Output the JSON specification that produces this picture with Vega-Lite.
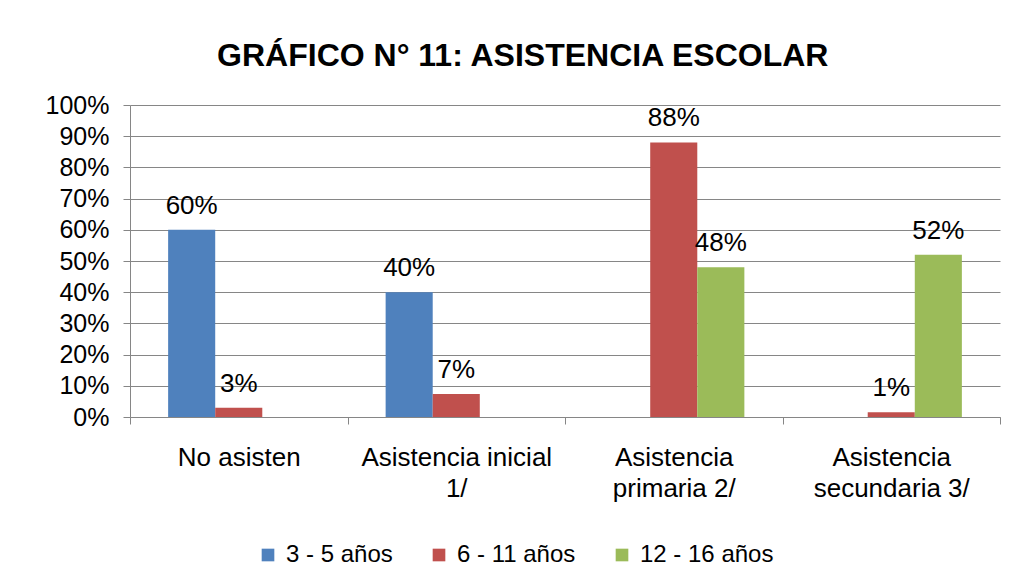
{
  "$schema": "https://vega.github.io/schema/vega-lite/v6.json",
  "autosize": {"type": "none"},
  "width": 870,
  "height": 312,
  "padding": {"left": 130, "top": 105, "right": 17, "bottom": 166},
  "background": "white",
  "title": {
    "text": "GRÁFICO N° 11: ASISTENCIA ESCOLAR",
    "font": "Liberation Sans",
    "fontSize": 32,
    "fontWeight": "bold",
    "color": "#000000",
    "anchor": "middle",
    "frame": "bounds",
    "offset": 20
  },
  "data": {
    "values": [
      {"categoria": "No asisten", "grupo": "3 - 5 años", "valor": 0.60},
      {"categoria": "No asisten", "grupo": "6 - 11 años", "valor": 0.03},
      {"categoria": "Asistencia inicial 1/", "grupo": "3 - 5 años", "valor": 0.40},
      {"categoria": "Asistencia inicial 1/", "grupo": "6 - 11 años", "valor": 0.074},
      {"categoria": "Asistencia primaria 2/", "grupo": "6 - 11 años", "valor": 0.88},
      {"categoria": "Asistencia primaria 2/", "grupo": "12 - 16 años", "valor": 0.48},
      {"categoria": "Asistencia secundaria 3/", "grupo": "6 - 11 años", "valor": 0.0149},
      {"categoria": "Asistencia secundaria 3/", "grupo": "12 - 16 años", "valor": 0.52}
    ]
  },
  "encoding": {
    "x": {
      "field": "categoria",
      "type": "nominal",
      "sort": ["No asisten", "Asistencia inicial 1/", "Asistencia primaria 2/", "Asistencia secundaria 3/"],
      "scale": {"paddingInner": 0, "paddingOuter": 0},
      "axis": {
        "title": null,
        "labelAngle": 0,
        "labelFont": "Liberation Sans",
        "labelFontSize": 26,
        "labelColor": "#000000",
        "labelLineHeight": 31,
        "labelPadding": 20,
        "labelLimit": 400,
        "labelExpr": "datum.label == 'Asistencia inicial 1/' ? ['Asistencia inicial', '1/'] : datum.label == 'Asistencia primaria 2/' ? ['Asistencia', 'primaria 2/'] : datum.label == 'Asistencia secundaria 3/' ? ['Asistencia', 'secundaria 3/'] : datum.label",
        "tickBand": "extent",
        "tickSize": 7,
        "tickColor": "#868686",
        "domainColor": "#868686",
        "grid": false
      }
    },
    "xOffset": {
      "field": "grupo",
      "type": "nominal",
      "sort": ["3 - 5 años", "6 - 11 años", "12 - 16 años"],
      "scale": {"paddingInner": 0, "paddingOuter": 0.81}
    },
    "y": {
      "field": "valor",
      "type": "quantitative",
      "scale": {"domain": [0, 1]},
      "axis": {
        "title": null,
        "format": ".0%",
        "values": [0, 0.1, 0.2, 0.3, 0.4, 0.5, 0.6, 0.7, 0.8, 0.9, 1],
        "labelFont": "Liberation Sans",
        "labelFontSize": 25,
        "labelColor": "#000000",
        "labelPadding": 14,
        "tickSize": 7,
        "tickColor": "#868686",
        "domainColor": "#868686",
        "gridColor": "#868686",
        "gridWidth": 1
      }
    }
  },
  "layer": [
    {
      "mark": {"type": "bar"},
      "encoding": {
        "color": {
          "field": "grupo",
          "type": "nominal",
          "sort": ["3 - 5 años", "6 - 11 años", "12 - 16 años"],
          "scale": {"domain": ["3 - 5 años", "6 - 11 años", "12 - 16 años"], "range": ["#4F81BD", "#C0504D", "#9BBB59"]},
          "legend": {
            "title": null,
            "orient": "none",
            "legendX": 126,
            "legendY": 438,
            "direction": "horizontal",
            "symbolType": "square",
            "symbolSize": 160,
            "symbolStrokeWidth": 0,
            "labelFont": "Liberation Sans",
            "labelFontSize": 24,
            "labelColor": "#000000",
            "columnPadding": 34,
            "labelOffset": 6
          }
        }
      }
    },
    {
      "mark": {"type": "text", "baseline": "bottom", "dy": -11, "font": "Liberation Sans", "fontSize": 26, "color": "#000000"},
      "encoding": {
        "text": {"field": "valor", "type": "quantitative", "format": ".0%"}
      }
    }
  ],
  "config": {
    "view": {"stroke": null}
  }
}
